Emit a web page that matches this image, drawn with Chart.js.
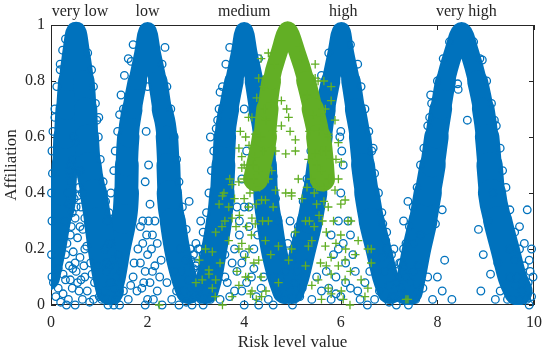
<!DOCTYPE html>
<html>
<head>
<meta charset="utf-8">
<script src="https://cdn.jsdelivr.net/npm/chart.js@4.4.1/dist/chart.umd.min.js"></script>
<style>
  body { margin: 0; background: #fff; }
  #marco { width: 550px; height: 356px; position: relative; }
</style>
</head>
<body>
<div id="marco"><canvas id="grafica"></canvas></div>
<script>
// Etiquetas de arriba y ticks
const topLabels = ["very low", "low", "medium", "high", "very high"];
const topLabelPos = [0.6, 2.0, 4.0, 6.05, 8.6];
const xTicks = [0, 2, 4, 6, 8, 10];
const yTicks = [0, 0.2, 0.4, 0.6, 0.8, 1];

// Nivel de afiliacion donde se leyeron las ramas de cada curva
const levels = [0.05, 0.1, 0.2, 0.3, 0.4, 0.5, 0.6, 0.7, 0.8, 0.9];
const veryLowLeft = [-0.15, -0.1, 0.02, 0.12, 0.25, 0.28, 0.3, 0.33, 0.37, 0.44];
const veryLowRight = [1.22, 1.15, 1.05, 0.97, 0.88, 0.78, 0.74, 0.72, 0.68, 0.6];
const lowLeft = [1.2, 1.28, 1.38, 1.5, 1.56, 1.57, 1.6, 1.68, 1.79, 1.91];
const lowRight = [2.85, 2.75, 2.61, 2.52, 2.45, 2.43, 2.4, 2.3, 2.21, 2.09];
const mediumLeft = [3.2, 3.28, 3.38, 3.48, 3.54, 3.57, 3.6, 3.68, 3.79, 3.91];
const mediumRight = [4.85, 4.75, 4.61, 4.52, 4.45, 4.43, 4.4, 4.3, 4.21, 4.09];
const highLeft = [4.98, 5.08, 5.22, 5.36, 5.46, 5.54, 5.6, 5.68, 5.79, 5.91];
const highRight = [7.02, 6.92, 6.78, 6.64, 6.54, 6.46, 6.4, 6.3, 6.21, 6.09];
const veryHighLeft = [7.4, 7.46, 7.57, 7.7, 7.8, 7.9, 7.98, 8.07, 8.17, 8.33];
const veryHighRight = [9.67, 9.55, 9.4, 9.25, 9.13, 9.08, 9.03, 8.95, 8.83, 8.67];
const peakX = [0.52, 2.0, 4.0, 6.01, 8.5];
const peakY = [0.976, 0.979, 0.979, 0.979, 0.977];

const greenLevels = [0.45, 0.5, 0.6, 0.7, 0.8, 0.9];
const greenLeft = [4.24, 4.3, 4.42, 4.48, 4.56, 4.72];
const greenRight = [5.62, 5.6, 5.54, 5.42, 5.28, 5.1];
const greenPeak = [4.9, 0.983];

// Puntos sueltos (circulos) alrededor de cada curva
const veryLowRings = [[0.45,0.52],[0.52,0.47],[0.4,0.44],[0.58,0.42],[0.48,0.38],[0.36,0.36],[0.62,0.35],[0.5,0.31],[0.42,0.28],[0.66,0.27],[0.55,0.24],[0.33,0.22],[0.46,0.19],[0.6,0.17],[0.38,0.14],[0.52,0.12],[0.7,0.1],[0.3,0.09],[0.44,0.06],[0.58,0.05],[0.25,0.04],[0.36,0.02],[0.65,0.02],[0.5,0.0],[0.8,0.01],[0.2,0.01],[0.1,0.03],[0.05,0.08],[0.15,0.13],[0.74,0.21],[0.82,0.15],[0.9,0.08],[1.0,0.03],[1.1,0.05],[0.95,0.14],[1.05,0.02],[0.5,0.58],[0.47,0.6],[0.41,0.5],[0.55,0.39],[0.44,0.33],[0.28,0.3],[0.7,0.31],
  [1.02,0.52],[1.08,0.44],[1.13,0.37],[1.16,0.3],[1.2,0.22],[1.28,0.16],[1.35,0.1],[1.4,0.04],[1.25,0.02],[0.98,0.6],[0.95,0.66],[0.92,0.72],[0.88,0.78],[0.84,0.84],[0.76,0.9],
  [0.02,0.55],[0.04,0.62],[0.08,0.7],[0.12,0.78],[0.19,0.86],[0.24,0.91],[0.3,0.95],[0.03,0.47],[0.01,0.4],[0.02,0.3],[0.01,0.18],[0.02,0.1],[0.08,0.67],[0.99,0.67],[0.19,0.84],
  [0.4,0.25],[0.6,0.28],[0.3,0.18],[0.7,0.2],[0.5,0.15],[0.25,0.11],[0.62,0.09],[0.4,0.09],[0.75,0.05],[0.15,0.06],[0.88,0.02],[0.32,0.0],[0.55,0.08],[0.45,0.13],[0.85,0.11],[0.2,0.22],[0.68,0.14],[1.15,0.12],[1.12,0.2],[1.22,0.08],[1.3,0.0],[1.18,0.0],[0.35,0.4],[0.6,0.48],[0.52,0.35],[0.38,0.48],[0.65,0.4],
  [1.3,0.06],[1.22,0.14],[1.4,0.18]];
const lowRings = [[1.38,0.62],[1.33,0.55],[1.3,0.48],[1.24,0.4],[1.2,0.33],[1.45,0.75],[1.52,0.82],[1.6,0.88],[1.42,0.68],[1.66,0.87],[1.5,0.7],[1.7,0.93],
  [2.0,0.78],[1.97,0.62],[2.02,0.5],[1.95,0.44],[2.05,0.36],[1.9,0.3],[2.1,0.25],
  [1.9,0.22],[2.0,0.18],[2.08,0.2],[1.95,0.12],[2.05,0.08],[1.85,0.15],[2.15,0.14],[1.78,0.05],[2.0,0.02],[2.2,0.05],[1.7,0.1],[2.12,0.02],[1.88,0.06],[2.25,0.1],[1.6,0.02],
  [2.3,0.86],[2.4,0.78],[2.48,0.7],[2.55,0.6],[2.6,0.52],[2.65,0.44],[2.72,0.35],[2.8,0.27],[2.88,0.2],[2.95,0.13],[3.05,0.06],[3.1,0.02],[2.86,0.37],[2.36,0.92],
  [2.7,0.12],[2.85,0.09],[2.95,0.04],[3.1,0.1],[3.2,0.05],[3.3,0.02],[2.8,0.01],[3.0,0.15],[3.15,0.18],[2.6,0.05],[2.8,0.16],[2.68,0.2],
  [1.85,0.28],[2.15,0.3],[1.8,0.2],[2.2,0.22],[1.92,0.08],[2.1,0.12],[1.72,0.15],[2.28,0.16],[1.98,0.25],[2.02,0.3],[1.95,0.0],[2.3,0.0],[1.65,0.07],[2.4,0.08],[2.5,0.02],[1.5,0.05],[1.45,0.12],[1.25,0.22],[1.15,0.15],[2.92,0.0],[3.0,0.09],[2.75,0.05],[2.9,0.16],[3.2,0.12],[3.25,0.08],[3.05,0.2],[1.35,0.02],[1.42,0.0],
  [2.65,0.0],[2.55,0.12],[3.35,0.14],[3.15,0.0]];
const mediumRings = [[3.62,0.86],[3.55,0.78],[3.48,0.7],[3.42,0.63],[3.37,0.55],[3.32,0.48],[3.27,0.4],[3.22,0.33],[3.15,0.26],[3.08,0.2],[3.0,0.14],[3.3,0.6],[3.5,0.76],[3.7,0.92],[3.45,0.66],
  [4.0,0.7],[4.05,0.55],[3.95,0.45],[4.0,0.35],[4.1,0.28],[3.9,0.25],[4.0,0.18],[3.85,0.12],[4.15,0.1],[3.95,0.05],[4.25,0.03],[3.7,0.03],[4.5,0.02],[4.4,0.1],[3.6,0.1],[3.8,0.2],[4.2,0.2],
  [4.95,0.05],[4.85,0.12],[4.75,0.22],[4.7,0.3],[4.65,0.38],[4.6,0.46],[4.55,0.55],[4.5,0.63],[4.45,0.72],[4.38,0.8],[4.3,0.88],
  [4.9,0.22],[5.0,0.16],[4.95,0.3],[5.05,0.08],[4.85,0.02],[5.15,0.03],[3.0,0.03],[3.4,0.07],
  [3.9,0.3],[4.1,0.35],[3.95,0.15],[4.05,0.08],[3.8,0.05],[4.2,0.13],[4.35,0.06],[3.75,0.15],[4.28,0.25],[3.85,0.35],[4.6,0.1],[4.7,0.04],[4.8,0.17],[5.05,0.25],[5.1,0.12],[4.55,0.2],[3.5,0.02],[3.65,0.08],[3.6,0.18],[4.0,0.0],[4.3,0.0],[3.0,0.22],[3.1,0.3],[2.95,0.18],
  [4.6,0.0],[4.75,0.1],[5.0,0.0],[5.25,0.1]];
const highRings = [[6.35,0.86],[6.42,0.78],[6.5,0.7],[6.58,0.62],[6.64,0.55],[6.7,0.47],[6.78,0.4],[6.85,0.33],[6.95,0.26],[7.05,0.18],[7.15,0.12],[7.25,0.06],[7.35,0.02],[6.67,0.56],[6.87,0.29],[6.93,0.23],[6.2,0.93],
  [6.0,0.4],[5.95,0.3],[6.05,0.22],[6.1,0.15],[5.9,0.1],[6.2,0.06],[6.0,0.03],[5.8,0.02],[6.4,0.02],[6.3,0.12],[6.15,0.3],[6.05,0.5],[5.85,0.18],[6.5,0.08],[5.6,0.05],[5.7,0.12],
  [5.6,0.82],[5.52,0.72],[5.45,0.63],[5.38,0.55],[5.3,0.45],[5.22,0.37],[5.12,0.28],[5.02,0.2],[5.75,0.9],
  [7.2,0.1],[7.3,0.14],[7.45,0.08],[7.1,0.03],[7.55,0.02],[7.4,0.0],[7.25,0.04],[6.8,0.05],[6.9,0.12],[7.0,0.01],
  [5.95,0.2],[6.1,0.08],[5.9,0.04],[6.25,0.18],[5.8,0.25],[6.2,0.25],[5.75,0.06],[6.35,0.05],[6.55,0.0],[6.6,0.12],[5.5,0.1],[5.4,0.02],[5.3,0.15],[5.2,0.06],[5.15,0.22],[7.0,0.07],[7.15,0.0],[7.35,0.1],[7.5,0.12],[7.6,0.05],[7.05,0.14],[6.95,0.2],[5.98,0.6],[6.02,0.55],[6.0,0.62],
  [6.7,0.02],[6.85,0.17],[7.3,0.2],[7.1,0.2]];
const veryHighRings = [[8.12,0.88],[8.0,0.8],[7.88,0.72],[7.8,0.64],[7.72,0.56],[7.65,0.5],[7.58,0.42],[7.5,0.35],[7.42,0.28],[7.35,0.22],[7.25,0.15],[7.15,0.08],[7.05,0.03],[7.86,0.75],[7.84,0.67],[7.39,0.37],[7.22,0.15],[7.7,0.06],[8.25,0.94],
  [8.42,0.79],[8.43,0.77],[8.62,0.66],[8.1,0.34],[8.15,0.16],[7.96,0.29],[8.0,0.1],[7.9,0.02],[8.1,0.05],
  [8.88,0.88],[9.02,0.8],[9.12,0.72],[9.22,0.64],[9.3,0.56],[9.35,0.48],[9.42,0.42],[9.5,0.34],[9.6,0.26],[9.7,0.2],[9.8,0.14],[9.88,0.08],[9.95,0.03],[9.92,0.12],[9.85,0.02],[9.86,0.34],[9.18,0.66],[8.93,0.875],[8.75,0.94],
  [8.85,0.27],[9.1,0.11],[8.95,0.18],[9.3,0.05],[9.45,0.02],[9.98,0.1],[9.7,0.02],
  [9.65,0.1],[9.75,0.05],[9.9,0.16],[9.6,0.16],[9.55,0.02],[9.8,0.22],[9.95,0.2],[9.7,0.28],[9.5,0.2],[7.6,0.14],[7.5,0.22],[7.3,0.3],[7.45,0.02],[7.8,0.1],[7.65,0.25],[8.3,0.02],[8.9,0.05],[9.2,0.02],[9.05,0.3],[9.15,0.4],[9.25,0.15],
  [9.5,0.1],[9.62,0.07],[9.9,0.0]];

// Cruces verdes
const greenCrosses = [[3.48,0.36],[3.58,0.4],[3.75,0.31],[3.83,0.28],[3.68,0.23],[3.27,0.11],[3.34,0.06],[3.75,0.03],[4.13,0.04],[4.09,0.1],[4.03,0.17],[4.3,0.16],[4.44,0.23],[4.23,0.29],[4.09,0.35],[4.44,0.375],[4.65,0.41],[4.86,0.4],[4.98,0.4],[5.06,0.55],[4.86,0.54],[5.12,0.45],[5.27,0.3],[5.4,0.23],[5.68,0.21],[5.8,0.17],[5.53,0.09],[5.27,0.14],[4.98,0.2],[4.71,0.08],[4.36,0.03],[3.89,0.44],[3.95,0.49],[4.23,0.53],[4.57,0.48],[3.54,0.28],[3.2,0.2],[3.89,0.2],[5.5,0.42],[5.74,0.35],[5.33,0.52],[5.6,0.48],
  [2.24,0.0],[3.07,0.16],[3.13,0.09],[3.27,0.125],[3.41,0.26],[3.34,0.19],[3.55,0.39],[3.68,0.35],[3.75,0.43],[3.89,0.07],[4.03,0.1],[4.16,0.05],[3.55,0.0],[3.41,0.09],[4.36,0.375],[4.16,0.31],[3.0,0.08],
  [4.98,0.39],[5.06,0.26],[4.92,0.16],[4.71,0.21],[5.33,0.21],[5.74,0.06],[5.8,0.04],[6.09,0.09],[6.19,0.0],[6.5,0.03],[6.56,0.06],[6.63,0.2],[6.36,0.23],[6.15,0.3],[6.0,0.36],[5.88,0.41],[7.35,0.02],[6.09,0.16],[5.95,0.14],
  [5.8,0.52],[6.01,0.51],[5.95,0.45],[6.09,0.375],[6.21,0.3],[6.56,0.2],[6.63,0.15],[6.42,0.09],[7.39,0.02],[5.8,0.11],[6.01,0.05],[5.6,0.55],[5.74,0.61],[5.88,0.66],[5.68,0.7],
  [4.3,0.81],[4.26,0.74],[4.16,0.67],[4.03,0.6],[3.89,0.56],[3.95,0.53],[4.77,0.73],[4.92,0.67],[4.77,0.64],[5.06,0.59],[4.65,0.55],[5.6,0.67],[5.47,0.81],[5.8,0.73],[5.47,0.54],[5.47,0.86],[5.53,0.8],[5.6,0.7],[5.74,0.6],[5.7,0.55],[5.9,0.52],[4.09,0.67],[4.23,0.61],
  [4.95,0.62],[4.88,0.7],
  [4.2,0.45],[4.32,0.42],[4.12,0.4],[4.0,0.38],[4.25,0.36],[4.38,0.3],[4.15,0.25],[3.95,0.22],[4.05,0.28],[4.3,0.48],[4.4,0.55],[4.18,0.5],[4.5,0.45],[4.35,0.6],[4.45,0.66],[4.6,0.62],[4.55,0.72],[4.4,0.78],[4.62,0.86],[4.5,0.9],
  [5.35,0.62],[5.42,0.68],[5.55,0.62],[5.3,0.75],[5.38,0.45],[5.5,0.36],[5.62,0.3],[5.45,0.28],[5.7,0.26],[5.58,0.15],[5.2,0.88],[5.15,0.92],[5.5,0.5],[5.65,0.42],
  [3.6,0.3],[3.7,0.45],[3.8,0.38],[3.9,0.32],[4.0,0.45],[4.1,0.2],[4.2,0.15],[4.35,0.1],[4.5,0.3],[4.55,0.18],[4.6,0.35],[3.5,0.15],[3.4,0.03],[3.85,0.12],[4.25,0.02],[4.45,0.05],[5.2,0.38],[5.3,0.42],[5.45,0.4],[5.55,0.32],[5.65,0.37],[5.75,0.45],[5.85,0.3],[5.9,0.22],[6.0,0.25],[6.1,0.2],[6.2,0.12],[6.3,0.18],[5.4,0.07],[5.6,0.02],[6.05,0.02],[5.7,0.14],[5.35,0.3],[5.95,0.58],[4.1,0.57],[4.0,0.5],[3.92,0.62],[5.8,0.78],[5.65,0.8],[4.35,0.88],[4.42,0.7]];

const azul = "#0072BD";
const verde = "#62AF25";
const texto = "#262626";

Chart.defaults.font.family = "'Liberation Serif', 'Times New Roman', serif";
Chart.defaults.color = texto;

// Arma la banda de una curva: rama izquierda, pico, rama derecha
function crearBanda(niveles, izquierda, derecha, pX, pY) {
    let puntos = [];
    niveles.forEach(function (m, i) { puntos.push({ x: izquierda[i], y: m }); });
    puntos.push({ x: pX, y: pY });
    for (let i = niveles.length - 1; i >= 0; i--) {
        puntos.push({ x: derecha[i], y: niveles[i] });
    }
    return puntos;
}

// La nube se ensancha hacia abajo: grosor segun la altura del tramo
function datasetBanda(datos, color, anchoArriba, anchoAbajo, desde, rango, orden) {
    return {
        data: datos,
        showLine: true,
        borderColor: color,
        borderWidth: anchoArriba,
        borderJoinStyle: "round",
        borderCapStyle: "round",
        cubicInterpolationMode: "monotone",
        segment: {
            borderWidth: function (c) {
                let yMedio = (c.p0.parsed.y + c.p1.parsed.y) / 2;
                let t = Math.min(1, Math.max(0, (desde - yMedio) / rango));
                return anchoArriba + (anchoAbajo - anchoArriba) * t;
            }
        },
        pointRadius: 0,
        fill: false,
        order: orden,
        clip: { left: 0, top: 14, right: 0, bottom: 0 }
    };
}

function datasetCirculos(lista) {
    return {
        data: lista.map(p => ({ x: p[0], y: p[1] })),
        showLine: false,
        pointStyle: "circle",
        pointRadius: 3.8,
        pointBorderWidth: 1.3,
        pointBackgroundColor: "rgba(0,0,0,0)",
        pointBorderColor: azul,
        order: 2,
        clip: 5
    };
}

// izquierda, derecha, ancho arriba, ancho abajo
let bandas = [
    [veryLowLeft, veryLowRight, 20, 28],
    [lowLeft, lowRight, 18, 26],
    [mediumLeft, mediumRight, 18, 26],
    [highLeft, highRight, 18, 26],
    [veryHighLeft, veryHighRight, 19, 29]
];

let datasets = [];
bandas.forEach(function (b, i) {
    datasets.push(datasetBanda(crearBanda(levels, b[0], b[1], peakX[i], peakY[i]), azul, b[2], b[3], 0.85, 0.55, 3));
});
[veryLowRings, lowRings, mediumRings, highRings, veryHighRings].forEach(function (lista) {
    datasets.push(datasetCirculos(lista));
});

datasets.push(datasetBanda(crearBanda(greenLevels, greenLeft, greenRight, greenPeak[0], greenPeak[1]), verde, 17, 25, 0.85, 0.3, 1));

datasets.push({
    data: greenCrosses.map(p => ({ x: p[0], y: p[1] })),
    showLine: false,
    pointStyle: "cross",
    pointRadius: 4.2,
    pointBorderWidth: 1.3,
    pointBorderColor: verde,
    order: 0,
    clip: 5
});

// Marco con ticks hacia adentro y etiquetas de arriba
const marcoEjes = {
    id: "marcoEjes",
    beforeDatasetsDraw(chart) {
        const { ctx, chartArea: a, scales: { x, y } } = chart;
        ctx.save();
        ctx.strokeStyle = texto;
        ctx.lineWidth = 1;
        ctx.strokeRect(a.left + 0.5, a.top + 0.5, a.right - a.left - 1, a.bottom - a.top - 1);
        ctx.beginPath();
        xTicks.forEach(function (v) {
            let px = Math.round(x.getPixelForValue(v)) + 0.5;
            ctx.moveTo(px, a.bottom); ctx.lineTo(px, a.bottom - 5);
            ctx.moveTo(px, a.top); ctx.lineTo(px, a.top + 5);
        });
        yTicks.forEach(function (v) {
            let py = Math.round(y.getPixelForValue(v)) + 0.5;
            ctx.moveTo(a.left, py); ctx.lineTo(a.left + 5, py);
            ctx.moveTo(a.right, py); ctx.lineTo(a.right - 5, py);
        });
        ctx.stroke();
        ctx.restore();
    },
    afterDraw(chart) {
        const { ctx, scales: { x } } = chart;
        ctx.save();
        ctx.fillStyle = texto;
        ctx.font = "16px 'Liberation Serif'";
        ctx.textAlign = "center";
        ctx.textBaseline = "middle";
        topLabels.forEach(function (t, i) {
            ctx.fillText(t, x.getPixelForValue(topLabelPos[i]), 12);
        });
        ctx.restore();
    }
};

new Chart(document.getElementById("grafica"), {
    type: "scatter",
    data: { datasets: datasets },
    options: {
        responsive: true,
        maintainAspectRatio: false,
        animation: false,
        events: [],
        layout: { padding: { top: 25, right: 13, left: 0, bottom: 0 } },
        plugins: { legend: { display: false }, tooltip: { enabled: false } },
        scales: {
            x: {
                min: 0, max: 10,
                afterFit: function (s) { s.height = 51; },
                afterBuildTicks: function (s) { s.ticks = xTicks.map(v => ({ value: v })); },
                grid: { display: false, drawTicks: false },
                border: { display: false },
                ticks: { padding: 8, font: { size: 16 }, maxRotation: 0 },
                title: { display: true, text: "Risk level value", font: { size: 17 }, padding: { top: 0, bottom: 3 } }
            },
            y: {
                min: 0, max: 1,
                afterFit: function (s) { s.width = 51; },
                afterBuildTicks: function (s) { s.ticks = yTicks.map(v => ({ value: v })); },
                grid: { display: false, drawTicks: false },
                border: { display: false },
                ticks: { padding: 6, font: { size: 16 }, callback: v => String(Number(v.toFixed(1))) },
                title: { display: true, text: "Affiliation", font: { size: 17 }, padding: { top: 1, bottom: 0 } }
            }
        }
    },
    plugins: [marcoEjes]
});
</script>
</body>
</html>
